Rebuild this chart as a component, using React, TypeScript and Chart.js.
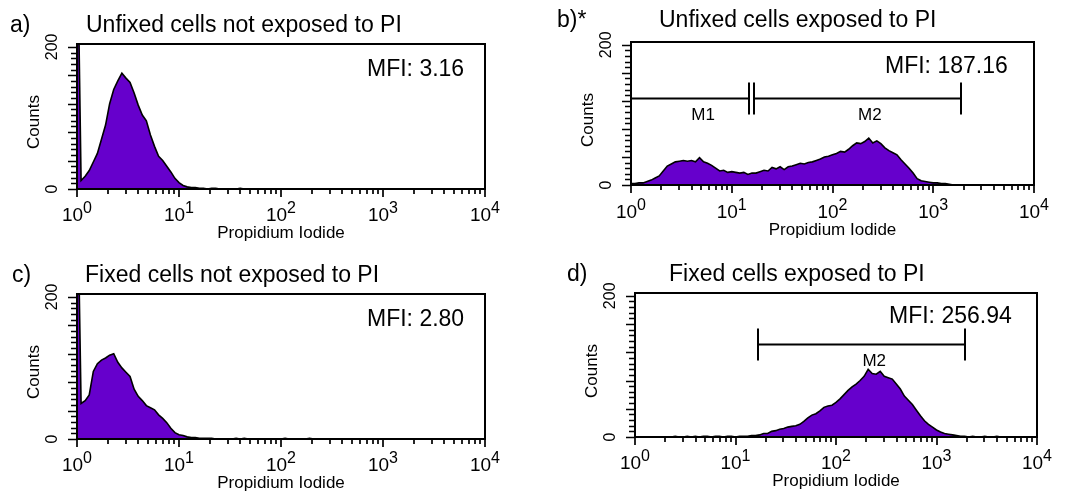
import React, { useEffect, useRef } from 'react';
import { Chart, registerables } from 'chart.js';

Chart.register(...registerables);

// ---------- DATA ----------
// channel width in decades (101 channels from 10^0 to 10^4)
const DECADE_STEP = 0.04;

// a) Unfixed cells not exposed to PI
const countsA = [
  400, 12, 18, 26, 38, 50, 70, 90, 120, 140,
  152, 163, 156, 150, 135, 118, 104, 96, 76, 60,
  46, 40, 32, 24, 15, 9, 5, 3, 2, 2,
  1, 1, 0, 1, 1, 0, 0, 0, 0, 0,
  1, 0, 0, 0, 0, 0, 0, 0, 0, 0,
  0, 0, 0, 0, 0, 0, 0, 0, 0, 0,
  0, 0, 0, 0, 0, 0, 0, 0, 0, 0,
  0, 0, 0, 0, 0, 0, 0, 0, 0, 0,
  0, 0, 0, 0, 0, 0, 0, 0, 0, 0,
  0, 0, 0, 0, 0, 0, 0, 0, 0, 0,
  0,
];

// b) Unfixed cells exposed to PI
const countsB = [
  2, 2, 3, 3, 5, 7, 10, 13, 20, 27,
  30, 33, 34, 35, 34, 35, 33, 39, 33, 31,
  28, 24, 20, 21, 18, 19, 18, 17, 18, 15,
  17, 17, 19, 21, 20, 25, 23, 26, 22, 26,
  27, 29, 31, 30, 32, 33, 35, 37, 40, 41,
  43, 45, 48, 47, 51, 56, 60, 59, 62, 67,
  60, 63, 59, 53, 49, 46, 43, 36, 30, 24,
  17, 9, 6, 5, 4, 3, 3, 2, 2, 1,
  0, 0, 0, 0, 0, 0, 0, 0, 0, 0,
  0, 0, 0, 0, 0, 0, 0, 0, 0, 0,
  0,
];

// c) Fixed cells not exposed to PI
const countsC = [
  400, 50, 54, 62, 95, 106, 111, 114, 118, 120,
  108, 100, 94, 88, 70, 60, 54, 47, 44, 41,
  34, 29, 23, 15, 9, 6, 5, 3, 2, 2,
  1, 1, 1, 1, 0, 0, 0, 0, 0, 1,
  0, 1, 0, 0, 0, 0, 0, 0, 0, 0,
  0, 1, 0, 0, 0, 0, 0, 1, 0, 0,
  0, 0, 0, 0, 0, 0, 0, 0, 0, 0,
  0, 0, 0, 0, 0, 0, 0, 0, 0, 0,
  0, 0, 0, 0, 0, 0, 0, 0, 0, 0,
  0, 0, 0, 0, 0, 0, 0, 0, 0, 0,
  0,
];

// d) Fixed cells exposed to PI
const countsD = [
  0, 0, 0, 0, 0, 0, 0, 0, 0, 0,
  1, 0, 0, 1, 0, 1, 0, 1, 1, 0,
  1, 1, 0, 1, 1, 0, 1, 1, 1, 2,
  2, 3, 5, 5, 8, 9, 11, 12, 14, 15,
  16, 18, 22, 27, 31, 33, 37, 42, 44, 45,
  49, 54, 60, 66, 71, 75, 80, 86, 96, 90,
  89, 93, 86, 84, 82, 75, 68, 58, 52, 46,
  38, 30, 23, 18, 14, 10, 7, 5, 4, 3,
  2, 1, 1, 0, 1, 0, 0, 1, 0, 0,
  1, 0, 0, 0, 0, 0, 0, 0, 0, 0,
  0,
];

// axis ticks
const X_MIN = 1;
const X_MAX = 10000;
const X_DECADES = [1, 10, 100, 1000, 10000];
const X_DECADE_EXPONENTS = ['0', '1', '2', '3', '4'];
const X_MINOR_MULTIPLIERS = [2, 3, 4, 5, 6, 7, 8, 9];
const Y_MIN = 0;
const Y_MAX = 204;
const Y_TICK_TOP = 200;
const Y_TICK_STEP = 8;
const Y_MAJOR_STEP = 40;
const Y_LABEL_VALUES = [0, 200];
const Y_LABELS = ['0', '200'];

// texts
const PANEL_LETTERS = ['a)', 'b)*', 'c)', 'd)'];
const PANEL_TITLES = [
  'Unfixed cells not exposed to PI',
  'Unfixed cells exposed to PI',
  'Fixed cells not exposed to PI',
  'Fixed cells exposed to PI',
];
const MFI_TEXTS = ['MFI: 3.16', 'MFI: 187.16', 'MFI: 2.80', 'MFI: 256.94'];
const X_TITLE = 'Propidium Iodide';
const Y_TITLE = 'Counts';

// gate markers (PI units), level in counts
const markersB = [
  { name: 'M1', from: 1, to: 15, labelAt: 5.2 },
  { name: 'M2', from: 16.5, to: 1900, labelAt: 235 },
];
const markerLevelB = 124;
const markersD = [{ name: 'M2', from: 16.7, to: 1910, labelAt: 240 }];
const markerLevelD = 132;

// ---------- LAYOUT (pixels) ----------
const LAYOUTS = [
  { left: 0, top: 0, width: 540, height: 250, box: { l: 77, t: 44, r: 485, b: 189 }, letter: { x: 10, y: 32 }, title: { x: 86, y: 32 }, mfi: { x: 367, y: 76 }, countsY: 122, tickBase: 221, xTitleY: 233 },
  { left: 540, top: 0, width: 539, height: 250, box: { l: 631, t: 42, r: 1034, b: 185 }, letter: { x: 557, y: 27 }, title: { x: 659, y: 27 }, mfi: { x: 885, y: 73 }, countsY: 120, tickBase: 218, xTitleY: 230 },
  { left: 0, top: 250, width: 540, height: 245, box: { l: 77, t: 294, r: 485, b: 439 }, letter: { x: 12, y: 282 }, title: { x: 85, y: 282 }, mfi: { x: 367, y: 326 }, countsY: 372, tickBase: 471, xTitleY: 483 },
  { left: 540, top: 250, width: 539, height: 245, box: { l: 635, t: 293, r: 1037, b: 437 }, letter: { x: 567, y: 281 }, title: { x: 669, y: 281 }, mfi: { x: 889, y: 323 }, countsY: 371, tickBase: 469, xTitleY: 481 },
];

const FONT = '"Liberation Sans", Arial, Helvetica, sans-serif';
const FILL = '#6600cc';

type Marker = { name: string; from: number; to: number; labelAt: number };
type PanelSpec = {
  counts: number[];
  letter: string;
  title: string;
  mfi: string;
  markers: Marker[];
  markerLevel: number;
  layout: (typeof LAYOUTS)[number];
};

const PANELS: PanelSpec[] = [
  { counts: countsA, letter: PANEL_LETTERS[0], title: PANEL_TITLES[0], mfi: MFI_TEXTS[0], markers: [], markerLevel: 0, layout: LAYOUTS[0] },
  { counts: countsB, letter: PANEL_LETTERS[1], title: PANEL_TITLES[1], mfi: MFI_TEXTS[1], markers: markersB, markerLevel: markerLevelB, layout: LAYOUTS[1] },
  { counts: countsC, letter: PANEL_LETTERS[2], title: PANEL_TITLES[2], mfi: MFI_TEXTS[2], markers: [], markerLevel: 0, layout: LAYOUTS[2] },
  { counts: countsD, letter: PANEL_LETTERS[3], title: PANEL_TITLES[3], mfi: MFI_TEXTS[3], markers: markersD, markerLevel: markerLevelD, layout: LAYOUTS[3] },
];

function makeDecorPlugin(p: PanelSpec) {
  return {
    id: 'facsDecor',
    afterDatasetsDraw(chart: any) {
      const ctx: CanvasRenderingContext2D = chart.ctx;
      const L = p.layout;
      const ox = L.left;
      const oy = L.top;
      const { left, right, top, bottom } = chart.chartArea;
      const xs = chart.scales.x;
      const ys = chart.scales.y;
      ctx.save();
      ctx.strokeStyle = '#000';
      ctx.fillStyle = '#000';

      // frame
      ctx.lineWidth = 2;
      ctx.strokeRect(left, top, right - left, bottom - top);

      // x ticks
      ctx.lineWidth = 1.7;
      ctx.beginPath();
      X_DECADES.forEach((d, k) => {
        const px = Math.round(xs.getPixelForValue(d));
        ctx.moveTo(px, bottom);
        ctx.lineTo(px, bottom + 8);
        if (k < X_DECADES.length - 1) {
          X_MINOR_MULTIPLIERS.forEach((m) => {
            const mx = Math.round(xs.getPixelForValue(d * m));
            ctx.moveTo(mx, bottom);
            ctx.lineTo(mx, bottom + 5);
          });
        }
      });
      // y ticks
      for (let v = Y_MIN; v <= Y_TICK_TOP; v += Y_TICK_STEP) {
        const py = Math.round(ys.getPixelForValue(v)) + 0.5;
        const len = v % Y_MAJOR_STEP === 0 ? 9 : 6;
        ctx.moveTo(left - len, py);
        ctx.lineTo(left, py);
      }
      ctx.stroke();

      // x tick labels: 10^n
      X_DECADES.forEach((d, k) => {
        const px = xs.getPixelForValue(d);
        ctx.font = `19px ${FONT}`;
        const wBase = ctx.measureText('10').width;
        ctx.font = `16px ${FONT}`;
        const wExp = ctx.measureText(X_DECADE_EXPONENTS[k]).width;
        const x0 = px - (wBase + wExp) / 2;
        ctx.textAlign = 'left';
        ctx.textBaseline = 'alphabetic';
        ctx.font = `19px ${FONT}`;
        ctx.fillText('10', x0, L.tickBase - oy);
        ctx.font = `16px ${FONT}`;
        ctx.fillText(X_DECADE_EXPONENTS[k], x0 + wBase, L.tickBase - oy - 8);
      });

      // x title
      ctx.font = `17px ${FONT}`;
      ctx.textAlign = 'center';
      ctx.textBaseline = 'middle';
      ctx.fillText(X_TITLE, (left + right) / 2, L.xTitleY - oy);

      // y tick labels (rotated)
      ctx.font = `16px ${FONT}`;
      Y_LABEL_VALUES.forEach((v, k) => {
        const py = ys.getPixelForValue(v);
        ctx.save();
        ctx.translate(left - 24, py);
        ctx.rotate(-Math.PI / 2);
        ctx.textAlign = 'center';
        ctx.textBaseline = 'middle';
        ctx.fillText(Y_LABELS[k], 0, 0);
        ctx.restore();
      });

      // y title
      ctx.save();
      ctx.font = `17px ${FONT}`;
      ctx.translate(left - 43, L.countsY - oy);
      ctx.rotate(-Math.PI / 2);
      ctx.textAlign = 'center';
      ctx.textBaseline = 'middle';
      ctx.fillText(Y_TITLE, 0, 0);
      ctx.restore();

      // panel letter, title, MFI
      ctx.textAlign = 'left';
      ctx.textBaseline = 'alphabetic';
      ctx.font = `23px ${FONT}`;
      ctx.fillText(p.letter, L.letter.x - ox, L.letter.y - oy);
      ctx.fillText(p.title, L.title.x - ox, L.title.y - oy);
      ctx.fillText(p.mfi, L.mfi.x - ox, L.mfi.y - oy);

      // markers
      if (p.markers.length) {
        const py = Math.round(ys.getPixelForValue(p.markerLevel)) + 0.5;
        ctx.lineWidth = 2;
        ctx.beginPath();
        p.markers.forEach((m) => {
          const x1 = Math.round(xs.getPixelForValue(m.from));
          const x2 = Math.round(xs.getPixelForValue(m.to));
          ctx.moveTo(x1, py);
          ctx.lineTo(x2, py);
          ctx.moveTo(x1, py - 16);
          ctx.lineTo(x1, py + 16);
          ctx.moveTo(x2, py - 16);
          ctx.lineTo(x2, py + 16);
        });
        ctx.stroke();
        ctx.font = `17px ${FONT}`;
        ctx.textAlign = 'center';
        ctx.textBaseline = 'middle';
        p.markers.forEach((m) => {
          ctx.fillText(m.name, xs.getPixelForValue(m.labelAt), py + 17);
        });
      }
      ctx.restore();
    },
  };
}

function Panel({ p }: { p: PanelSpec }) {
  const ref = useRef<HTMLCanvasElement>(null);
  const L = p.layout;
  useEffect(() => {
    if (!ref.current) return;
    const channels = p.counts.map((_, i) => Math.pow(10, i * DECADE_STEP));
    const chart = new Chart(ref.current, {
      type: 'line',
      data: {
        datasets: [
          {
            data: p.counts.map((c, i) => ({ x: channels[i], y: c })),
            borderColor: '#000',
            borderWidth: 1.6,
            backgroundColor: FILL,
            fill: 'origin',
            pointRadius: 0,
            tension: 0,
          },
        ],
      },
      options: {
        responsive: false,
        animation: false,
        layout: {
          padding: {
            left: L.box.l - L.left,
            top: L.box.t - L.top,
            right: L.left + L.width - L.box.r,
            bottom: L.top + L.height - L.box.b,
          },
        },
        scales: {
          x: { type: 'logarithmic', min: X_MIN, max: X_MAX, display: false },
          y: { type: 'linear', min: Y_MIN, max: Y_MAX, display: false },
        },
        plugins: {
          legend: { display: false },
          tooltip: { enabled: false },
          title: { display: false },
        },
      },
      plugins: [makeDecorPlugin(p)],
    } as any);
    return () => chart.destroy();
  }, []);
  return (
    <canvas
      ref={ref}
      width={L.width}
      height={L.height}
      style={{ position: 'absolute', left: L.left, top: L.top, width: L.width, height: L.height }}
    />
  );
}

export default function App() {
  return (
    <div style={{ position: 'absolute', left: 0, top: 0, width: 1079, height: 495, background: '#fff', overflow: 'hidden' }}>
      {PANELS.map((p, i) => (
        <Panel key={i} p={p} />
      ))}
    </div>
  );
}
